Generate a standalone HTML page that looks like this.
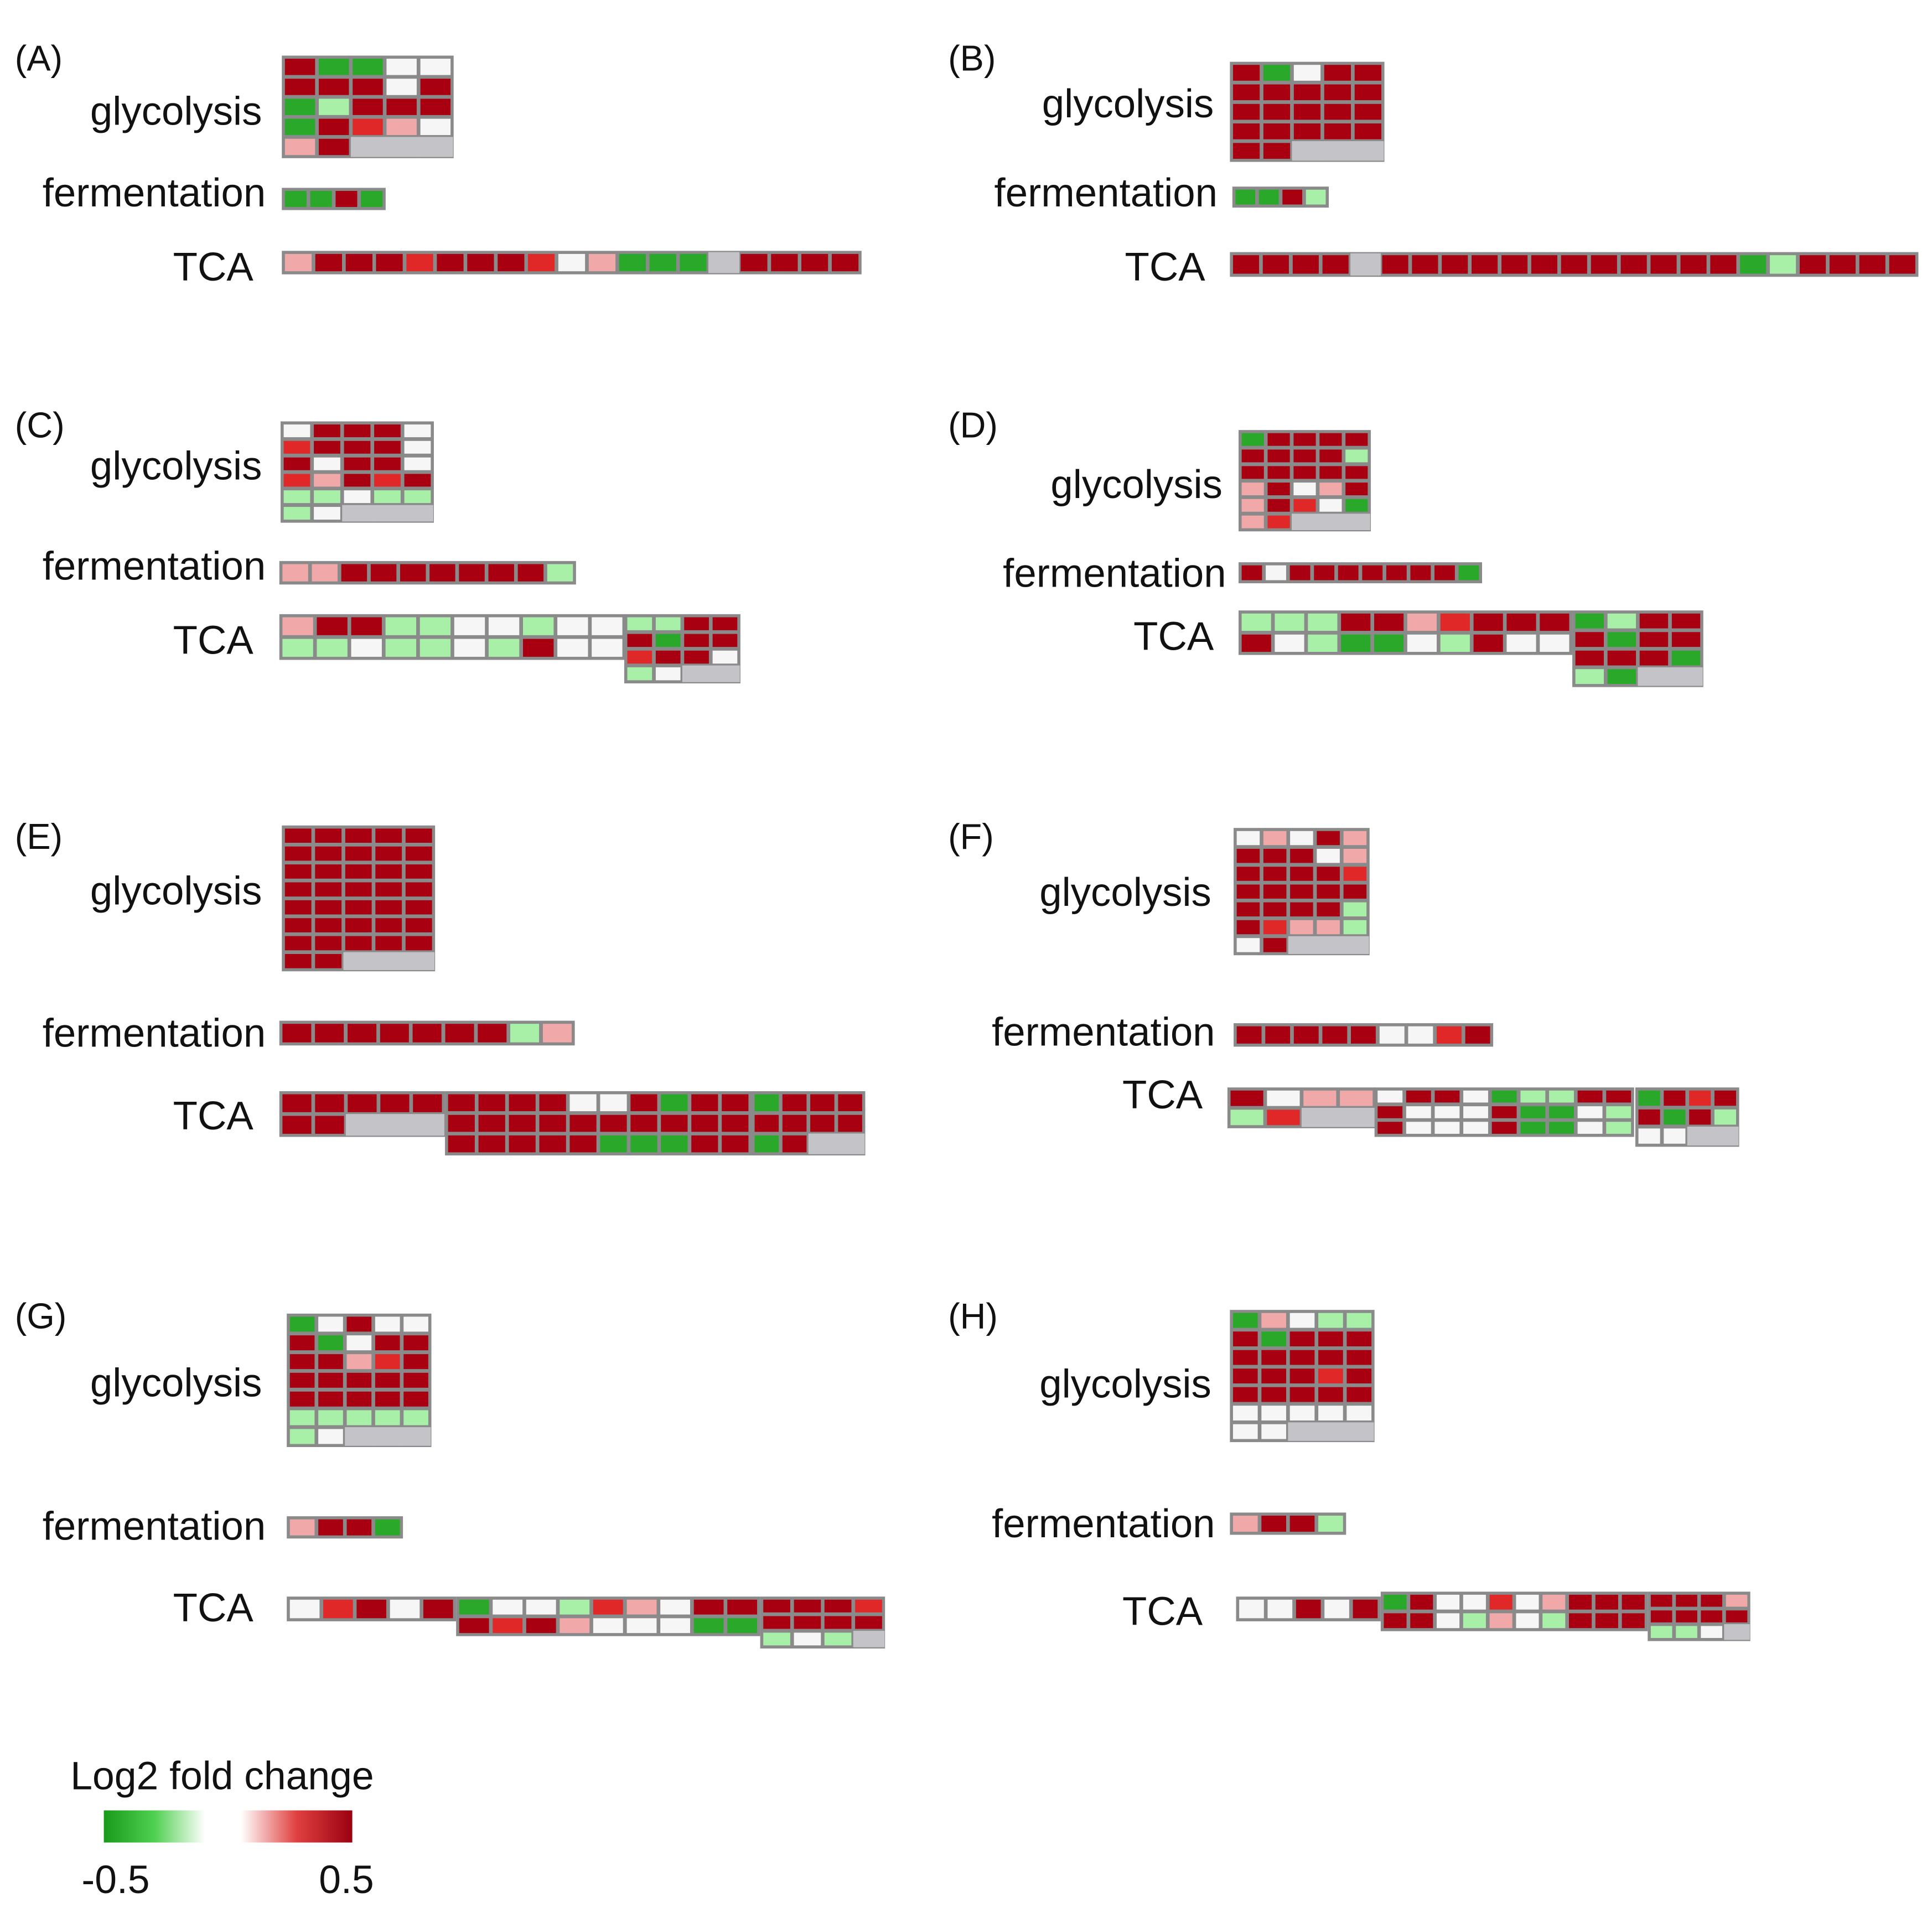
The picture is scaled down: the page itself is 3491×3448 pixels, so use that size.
<!DOCTYPE html>
<html><head><meta charset="utf-8"><style>
html,body{margin:0;padding:0;background:#fff;width:3491px;height:3448px;overflow:hidden}
svg{display:block}
text{font-family:"Liberation Sans",Arial,sans-serif;fill:#111}
</style></head><body>
<svg id="s" width="3491" height="3448" viewBox="0 0 1563 1544" preserveAspectRatio="none" xmlns="http://www.w3.org/2000/svg">
<defs>
<linearGradient id="gg" x1="0" x2="1"><stop offset="0" stop-color="#1a9a1a"/><stop offset="0.5" stop-color="#50d050"/><stop offset="1" stop-color="#ffffff"/></linearGradient>
<linearGradient id="rg" x1="0" x2="1"><stop offset="0" stop-color="#ffffff"/><stop offset="0.5" stop-color="#e04040"/><stop offset="1" stop-color="#9a0010"/></linearGradient>
</defs>
<g id="cells"></g>
<g font-size="29">
<text x="12" y="57">(A)</text><text x="767" y="57">(B)</text>
<text x="12" y="354">(C)</text><text x="767" y="354">(D)</text>
<text x="12" y="687">(E)</text><text x="767" y="687">(F)</text>
<text x="12" y="1075">(G)</text><text x="767" y="1075">(H)</text>
</g>
<g font-size="32.5" text-anchor="end">
<text x="212" y="101">glycolysis</text><text x="215" y="167">fermentation</text><text x="205" y="227">TCA</text>
<text x="982" y="95">glycolysis</text><text x="985" y="167">fermentation</text><text x="975" y="227">TCA</text>
<text x="212" y="388">glycolysis</text><text x="215" y="469">fermentation</text><text x="205" y="529">TCA</text>
<text x="989" y="403">glycolysis</text><text x="992" y="475">fermentation</text><text x="982" y="526">TCA</text>
<text x="212" y="732">glycolysis</text><text x="215" y="847">fermentation</text><text x="205" y="914">TCA</text>
<text x="980" y="733">glycolysis</text><text x="983" y="846">fermentation</text><text x="973" y="897">TCA</text>
<text x="212" y="1130">glycolysis</text><text x="215" y="1246">fermentation</text><text x="205" y="1312">TCA</text>
<text x="980" y="1131">glycolysis</text><text x="983" y="1244">fermentation</text><text x="973" y="1315">TCA</text>
</g>
<text x="57" y="1448" font-size="32">Log2 fold change</text>
<rect x="84" y="1465" width="82" height="26" fill="url(#gg)"/>
<rect x="195" y="1465" width="90" height="26" fill="url(#rg)"/>
<text x="66" y="1532" font-size="32">-0.5</text>
<text x="258" y="1532" font-size="32">0.5</text>
</svg>
<script>
var C={D:"#a80010",R:"#e02828",P:"#f0a8a8",W:"#f6f6f6",L:"#a8f0a8",G:"#2aa82a",g:"#c4c4c8"};
var B=[
[228,45,139,83,["DGGWW","DDDWD","GLDDD","GDRPW","PDggg"]],
[228,152,84,18,["GGDG"]],
[228,203,469,19,["PDDDRDDDRWPGGGgDDDD"]],
[995,50,125,81,["DGWDD","DDDDD","DDDDD","DDDDD","DDggg"]],
[997,151,78,17,["GGDL"]],
[995,204,557,20,["DDDDgDDDDDDDDDDDDGLDDDD"]],
[227,341,124,82,["WDDDW","RDDDW","DWDDW","RPDRD","LLWLL","LWggg"]],
[226,454,240,19,["PPDDDDDDDL"]],
[226,497,280,37,["PDDLLWWLWW","LLWLLWLDWW"]],
[505,497,94,56,["LLDD","DGDD","RDDW","LWgg"]],
[1002,348,107,82,["GDDDD","DDDDL","DDDDD","PDWPD","PDRWG","PRggg"]],
[1002,455,197,17,["DWDDDDDDDG"]],
[1002,494,270,36,["LLLDDPRDDD","DWLGGWLDWW"]],
[1272,494,106,62,["GLDD","DGDD","DDDG","LGgg"]],
[228,668,124,118,["DDDDD","DDDDD","DDDDD","DDDDD","DDDDD","DDDDD","DDDDD","DDggg"]],
[226,826,239,20,["DDDDDDDLP"]],
[226,883,134,37,["DDDDD","DDggg"]],
[360,883,248,52,["DDDDWWDGDD","DDDDDDDDDD","DDDDDGGGDD"]],
[608,883,92,52,["GDDD","DDDD","GDgg"]],
[998,670,110,103,["WPWDP","DDDWP","DDDDR","DDDDD","DDDDL","DRPPL","WDggg"]],
[998,828,210,19,["DDDDDWWRD"]],
[993,880,120,33,["DWPP","LRgg"]],
[1112,880,210,40,["WDDWGLLDD","DWWWDGGWL","DWWWDGGWL"]],
[1323,880,84,48,["GDRD","DGDL","WWgg"]],
[232,1063,117,108,["GWDWW","DGWDD","DDPRD","DDDDD","DDDDD","LLLLL","LWggg"]],
[232,1227,94,18,["PDDG"]],
[232,1292,137,20,["WRDWD"]],
[369,1292,246,32,["GWWLRPWDD","DRDPWWWGG"]],
[615,1292,101,42,["DDDR","DDDD","LWLg"]],
[995,1060,117,107,["GPWLL","DGDDD","DDDDD","DDDRD","DDDDD","WWWWW","WWggg"]],
[995,1224,94,18,["PDDL"]],
[1000,1292,117,20,["WWDWD"]],
[1117,1288,216,32,["GDWWRWPDDD","DDWLPWLDDD"]],
[1333,1288,83,40,["DDDP","DDDD","LLWg"]]
];
var h="";
B.forEach(function(b){
 var x=b[0],y=b[1],w=b[2],H=b[3],r=b[4];
 h+='<rect x="'+x+'" y="'+y+'" width="'+w+'" height="'+H+'" fill="#8a8a8a"/>';
 var ch=(H-2)/r.length;
 r.forEach(function(row,i){
  var cw=(w-2)/row.length;
  for(var j=0;j<row.length;j++){
   var c=row[j];var g=c=="g"?0:1.5;
   h+='<rect x="'+(x+1+j*cw+g).toFixed(1)+'" y="'+(y+1+i*ch+g).toFixed(1)+'" width="'+(cw-2*g+(c=="g"?0.5:0)).toFixed(1)+'" height="'+(ch-2*g).toFixed(1)+'" fill="'+C[c]+'"/>';
  }
 });
});
document.getElementById("cells").innerHTML=h;
</script>
</body></html>
